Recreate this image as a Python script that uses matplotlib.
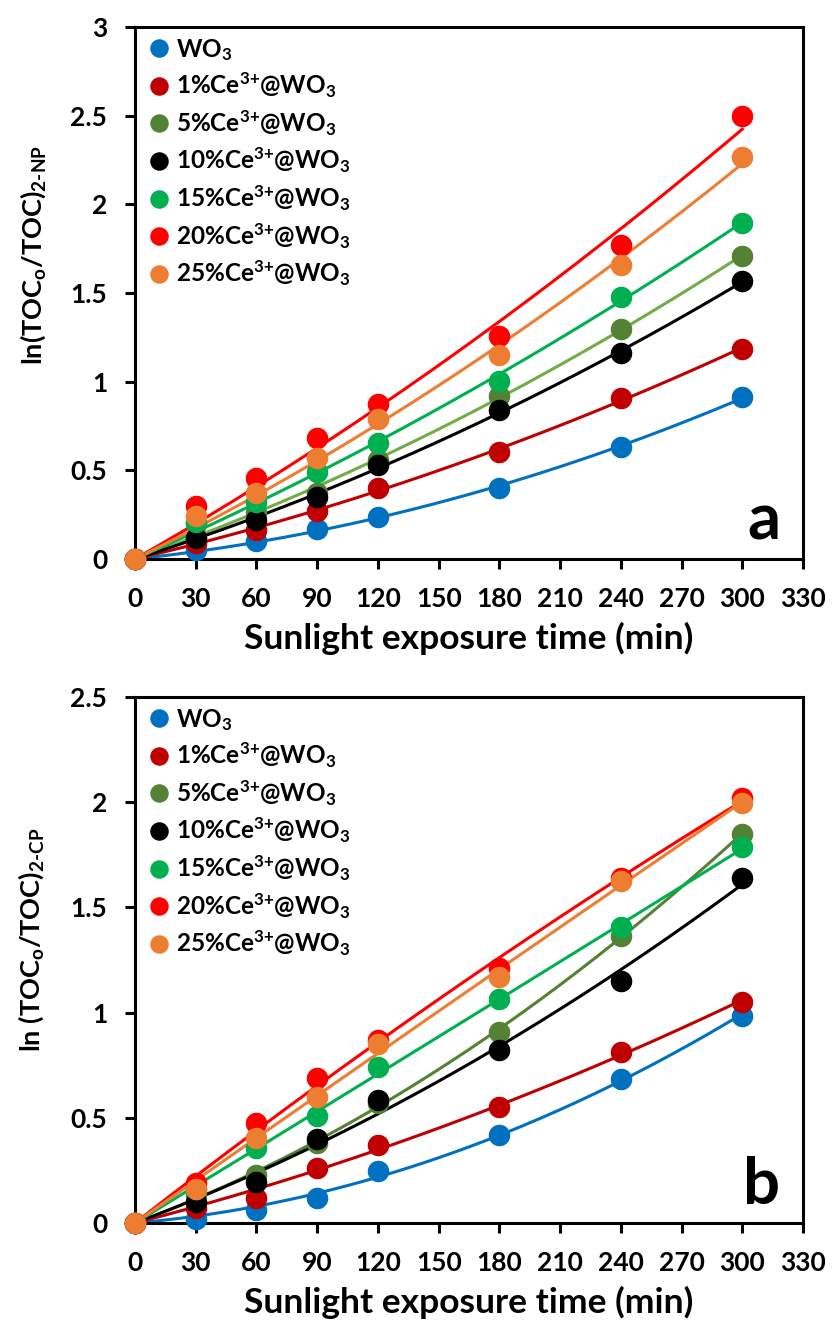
import numpy as np
import matplotlib
matplotlib.use('Agg')
import matplotlib.pyplot as plt

plt.rcParams['font.family'] = ['Lato', 'DejaVu Sans']
plt.rcParams['font.weight'] = 'bold'
plt.rcParams['mathtext.fontset'] = 'custom'
plt.rcParams['mathtext.rm'] = 'Lato:bold'
plt.rcParams['mathtext.bf'] = 'Lato:bold'
plt.rcParams['mathtext.it'] = 'Lato:bold'
plt.rcParams['mathtext.default'] = 'bf'

# exposure time (min)
time = [0, 30, 60, 90, 120, 180, 240, 300]

labels = [r'WO$_3$', r'1%Ce$^{\text{3+}}$@WO$_3$', r'5%Ce$^{\text{3+}}$@WO$_3$',
          r'10%Ce$^{\text{3+}}$@WO$_3$', r'15%Ce$^{\text{3+}}$@WO$_3$',
          r'20%Ce$^{\text{3+}}$@WO$_3$', r'25%Ce$^{\text{3+}}$@WO$_3$']
marker_colors = ['#0070C0', '#C00000', '#548235', '#000000', '#00B050', '#FF0000', '#ED7D31']

# panel a : 2-NP
np_wo3 = [0, 0.05, 0.10, 0.17, 0.235, 0.40, 0.63, 0.915]
np_ce1 = [0, 0.09, 0.165, 0.27, 0.40, 0.605, 0.91, 1.185]
np_ce5 = [0, 0.20, 0.26, 0.37, 0.56, 0.92, 1.295, 1.71]
np_ce10 = [0, 0.12, 0.22, 0.35, 0.53, 0.84, 1.16, 1.565]
np_ce15 = [0, 0.21, 0.32, 0.49, 0.655, 1.005, 1.48, 1.895]
np_ce20 = [0, 0.30, 0.455, 0.685, 0.875, 1.26, 1.77, 2.50]
np_ce25 = [0, 0.245, 0.375, 0.57, 0.79, 1.15, 1.66, 2.265]

# panel b : 2-CP
cp_wo3 = [0, 0.02, 0.06, 0.12, 0.245, 0.42, 0.685, 0.985]
cp_ce1 = [0, 0.07, 0.12, 0.26, 0.37, 0.55, 0.815, 1.05]
cp_ce5 = [0, 0.14, 0.23, 0.38, 0.57, 0.91, 1.365, 1.85]
cp_ce10 = [0, 0.10, 0.195, 0.40, 0.585, 0.82, 1.15, 1.64]
cp_ce15 = [0, 0.16, 0.355, 0.51, 0.74, 1.065, 1.405, 1.785]
cp_ce20 = [0, 0.19, 0.475, 0.69, 0.87, 1.21, 1.64, 2.02]
cp_ce25 = [0, 0.16, 0.405, 0.60, 0.85, 1.17, 1.625, 1.995]

data_a = [np_wo3, np_ce1, np_ce5, np_ce10, np_ce15, np_ce20, np_ce25]
data_b = [cp_wo3, cp_ce1, cp_ce5, cp_ce10, cp_ce15, cp_ce20, cp_ce25]


def trend(x, y):
    # 2nd order polynomial trendline forced through the origin
    x = np.array(x, dtype=float)
    y = np.array(y, dtype=float)
    A = np.column_stack([x, x ** 2])
    c, *_ = np.linalg.lstsq(A, y, rcond=None)
    xs = np.linspace(0, x.max(), 200)
    return xs, c[0] * xs + c[1] * xs ** 2


def draw(ax, data, line_colors, ymax, letter):
    for y, lab, mc, lc in zip(data, labels, marker_colors, line_colors):
        xs, ys = trend(time, y)
        ax.plot(xs, ys, color=lc, lw=2.2, zorder=2, clip_on=False)
        ax.plot(time, y, 'o', color=mc, ms=14.5, label=lab, zorder=3, clip_on=False)
    ax.set_xlim(0, 330)
    ax.set_ylim(0, ymax)
    ax.set_xticks(np.arange(0, 331, 30))
    yt = np.arange(0, ymax + 0.01, 0.5)
    ax.set_yticks(yt)
    ax.set_yticklabels(['%g' % v for v in yt])
    ax.tick_params(labelsize=19, width=2.2, length=7, direction='out')
    ax.tick_params(axis='x', pad=13)
    ax.tick_params(axis='y', pad=13)
    for s in ax.spines.values():
        s.set_linewidth(2.2)
    ax.set_xlabel('Sunlight exposure time (min)', fontsize=25.5, fontweight='bold', labelpad=8)
    ax.text(0.966, 0.036, letter, transform=ax.transAxes, fontsize=47, fontweight='bold',
            ha='right', va='baseline')
    ax.legend(loc='upper left', frameon=False, fontsize=17.5, handletextpad=0.1,
              labelspacing=0.33, borderaxespad=0.1, markerscale=0.85, handlelength=1.2,
              borderpad=0.3)


fig = plt.figure(figsize=(8.35, 13.3), dpi=100)
ax1 = fig.add_axes([135 / 835, 1 - 559 / 1330, 668 / 835, 532 / 1330])
ax2 = fig.add_axes([135 / 835, 1 - 1223 / 1330, 668 / 835, 526 / 1330])

draw(ax1, data_a, ['#0070C0', '#C00000', '#70AD47', '#000000', '#00B050', '#FF0000', '#ED7D31'],
     3, 'a')
draw(ax2, data_b, ['#0070C0', '#C00000', '#548235', '#000000', '#00B050', '#FF0000', '#ED7D31'],
     2.5, 'b')

fig.text(33 / 835, 1 - 255 / 1330, r'ln(TOC$_\mathrm{o}$/TOC)$_{\mathrm{2\text{-}NP}}$',
         rotation=90, ha='center', va='center', fontsize=19.5, fontweight='bold')
fig.text(31 / 835, 1 - 940 / 1330, r'ln (TOC$_\mathrm{o}$/TOC)$_{\mathrm{2\text{-}CP}}$',
         rotation=90, ha='center', va='center', fontsize=19.5, fontweight='bold')

fig.savefig('out.png', dpi=100)
